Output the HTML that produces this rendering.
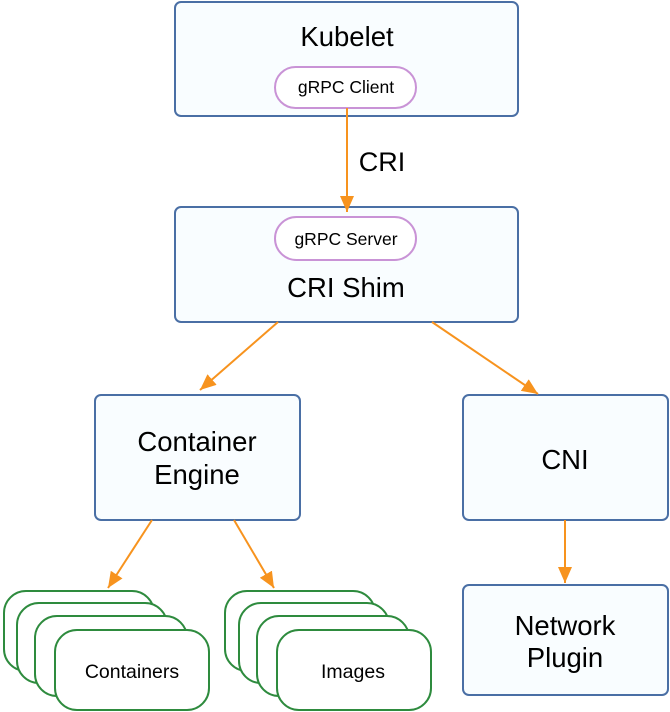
<!DOCTYPE html>
<html><head><meta charset="utf-8"><style>html,body{margin:0;padding:0;background:#fff}svg{display:block}text{font-family:"Liberation Sans",sans-serif;fill:#000}</style></head>
<body>
<svg width="670" height="712" viewBox="0 0 670 712" xmlns="http://www.w3.org/2000/svg">
<defs>
<marker id="b" viewBox="0 0 16 14" refX="16" refY="7" markerWidth="16" markerHeight="14" markerUnits="userSpaceOnUse" orient="auto"><path d="M0,0 L16,7 L0,14 z" fill="#f7931e"/></marker></defs>
<g fill="#f9fdff" stroke="#4a6fa5" stroke-width="2">
<rect x="175" y="2" width="343" height="114" rx="6"/>
<rect x="175" y="207" width="343" height="115" rx="6"/>
<rect x="95" y="395" width="205" height="125" rx="6"/>
<rect x="463" y="395" width="205" height="125" rx="6"/>
<rect x="463" y="585" width="205" height="110" rx="6"/>
</g>
<g fill="#fff" stroke="#c993d6" stroke-width="2">
<rect x="275" y="67" width="141" height="41" rx="20.5"/>
<rect x="275" y="217" width="141" height="43" rx="21.5"/>
</g>
<g stroke="#f7931e" stroke-width="2" fill="none">
<line x1="347" y1="108" x2="347" y2="212" marker-end="url(#b)"/>
<line x1="278" y1="322" x2="200" y2="390" marker-end="url(#b)"/>
<line x1="432" y1="322" x2="538" y2="394" marker-end="url(#b)"/>
<line x1="152" y1="520" x2="108" y2="588" marker-end="url(#b)"/>
<line x1="234" y1="520" x2="274" y2="588" marker-end="url(#b)"/>
<line x1="565" y1="520" x2="565" y2="583" marker-end="url(#b)"/>
</g>
<g fill="#fff" stroke="#2e8b3e" stroke-width="2">
<rect x="4" y="591" width="150" height="80" rx="22"/>
<rect x="17" y="603" width="150" height="80" rx="22"/>
<rect x="35" y="616" width="152" height="80" rx="22"/>
<rect x="55" y="630" width="154" height="80" rx="22"/>
<rect x="225" y="591" width="150" height="80" rx="22"/>
<rect x="239" y="603" width="150" height="80" rx="22"/>
<rect x="257" y="616" width="152" height="80" rx="22"/>
<rect x="277" y="630" width="154" height="80" rx="22"/>
</g>
<g text-anchor="middle">
<text x="347" y="46" font-size="27.5">Kubelet</text>
<text x="346" y="93" font-size="17.5">gRPC Client</text>
<text x="382" y="171" font-size="27">CRI</text>
<text x="346" y="245" font-size="17.5">gRPC Server</text>
<text x="346" y="297" font-size="27.5">CRI Shim</text>
<text x="197" y="451" font-size="27.5">Container</text>
<text x="197" y="484" font-size="27.5">Engine</text>
<text x="565" y="469" font-size="27.5">CNI</text>
<text x="565" y="635" font-size="27.5">Network</text>
<text x="565" y="667" font-size="27.5">Plugin</text>
<text x="132" y="678" font-size="19.5">Containers</text>
<text x="353" y="678" font-size="19.5">Images</text>
</g>
</svg>
</body></html>
